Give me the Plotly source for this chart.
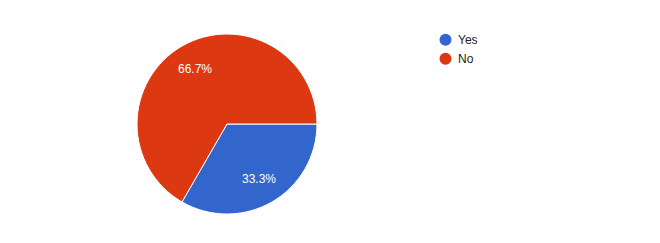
import math
import plotly.graph_objects as go

labels = ["Yes", "No"]
values = [1, 2]
colors = ["#3366cc", "#dc3912"]

W, H = 660, 243
cx, cy, R = 227, 124, 90          # pie centre / radius in px
label_frac = 0.71                  # label distance as fraction of radius

fig = go.Figure()
fig.add_trace(go.Pie(
    labels=labels, values=values, sort=False, direction="clockwise", rotation=90,
    marker=dict(colors=colors, line=dict(color="white", width=1)),
    textinfo="none", showlegend=False, hoverinfo="label+percent",
    domain=dict(x=[(cx - R) / W, (cx + R) / W], y=[(H - cy - R) / H, (H - cy + R) / H]),
))

annotations = []
shapes = []
total = sum(values)
start = 90.0
for v in values:
    frac = v / total
    mid = math.radians(start + frac * 360 / 2)
    px = cx + label_frac * R * math.sin(mid)
    py = cy - label_frac * R * math.cos(mid)
    annotations.append(dict(x=px / W, y=1 - py / H, xref="paper", yref="paper",
                            xanchor="center", yanchor="middle",
                            text=f"{frac*100:.1f}%", showarrow=False,
                            font=dict(color="white", size=12, family="Arial")))
    start += frac * 360

# custom legend with round markers
lx, ly0, dy, mr = 445.5, 39.7, 19, 6
for i, (lab, col) in enumerate(zip(labels, colors)):
    y = ly0 + i * dy
    shapes.append(dict(type="circle", xref="paper", yref="paper",
                       x0=(lx - mr) / W, x1=(lx + mr) / W,
                       y0=1 - (y + mr) / H, y1=1 - (y - mr) / H,
                       fillcolor=col, line=dict(width=0)))
    annotations.append(dict(x=(lx + 10.5) / W, y=1 - y / H, xref="paper", yref="paper",
                            xanchor="left", yanchor="middle", text=lab, showarrow=False,
                            font=dict(color="#222222", size=12, family="Arial")))

fig.update_layout(
    width=W, height=H, margin=dict(l=0, r=0, t=0, b=0),
    paper_bgcolor="white", plot_bgcolor="white",
    font=dict(family="Arial", size=12, color="#222222"),
    annotations=annotations, shapes=shapes, showlegend=False,
)
fig.write_html("out.html")
